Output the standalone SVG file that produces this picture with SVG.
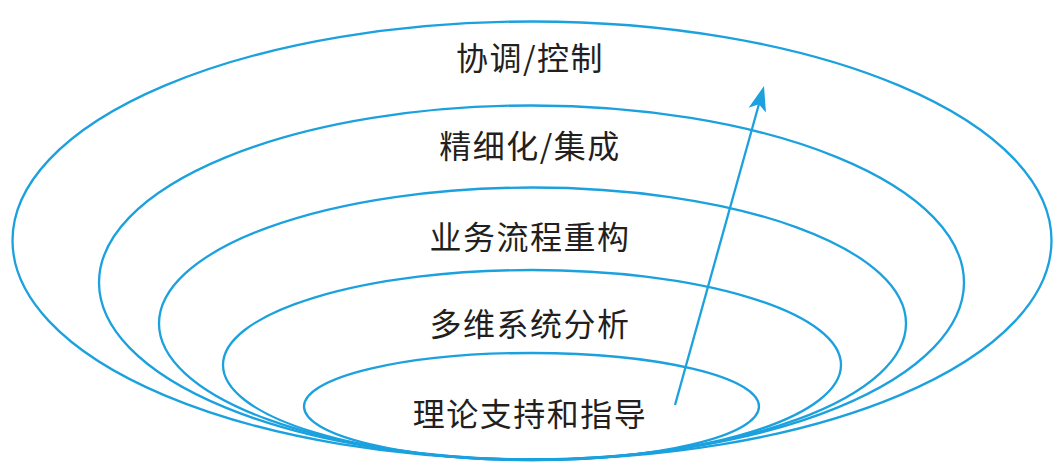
<svg xmlns="http://www.w3.org/2000/svg" width="1060" height="473" viewBox="0 0 1060 473">
<style>
.ring{fill:none;stroke:#1ba1de;stroke-width:2.3}
.lbl{font-family:"Noto Sans CJK SC","Noto Sans",sans-serif;font-size:32px;fill:#231f20;text-anchor:middle;letter-spacing:1.5px}
.conn{stroke:#1ba1de;stroke-width:2.3;fill:none}
</style>
<defs>
<marker id="ah" markerWidth="26" markerHeight="20" refX="11" refY="10" orient="auto" markerUnits="userSpaceOnUse" viewBox="0 0 26 20">
<path d="M25 10 L0 1 L6 10 L0 19 Z" fill="#1ba1de"/>
</marker>
</defs>
<rect width="1060" height="473" fill="#ffffff"/>
<g id="ring1"><ellipse class="ring" cx="532" cy="240.5" rx="519.5" ry="219"/><text class="lbl" x="530" y="70">协调/控制</text></g>
<g id="ring2"><ellipse class="ring" cx="531.5" cy="282.5" rx="432.5" ry="177"/><text class="lbl" x="530" y="158">精细化/集成</text></g>
<g id="ring3"><ellipse class="ring" cx="532.5" cy="323.5" rx="373.5" ry="136"/><text class="lbl" x="530" y="249">业务流程重构</text></g>
<g id="ring4"><ellipse class="ring" cx="532" cy="365" rx="309" ry="95"/><text class="lbl" x="530" y="336">多维系统分析</text></g>
<g id="ring5"><ellipse class="ring" cx="531.5" cy="406.5" rx="227.5" ry="53.5"/><text class="lbl" x="530" y="426">理论支持和指导</text></g>
<g id="connectors">
<line class="conn" x1="675" y1="405" x2="760.24" y2="99.48" marker-end="url(#ah)"/>
</g>
</svg>
